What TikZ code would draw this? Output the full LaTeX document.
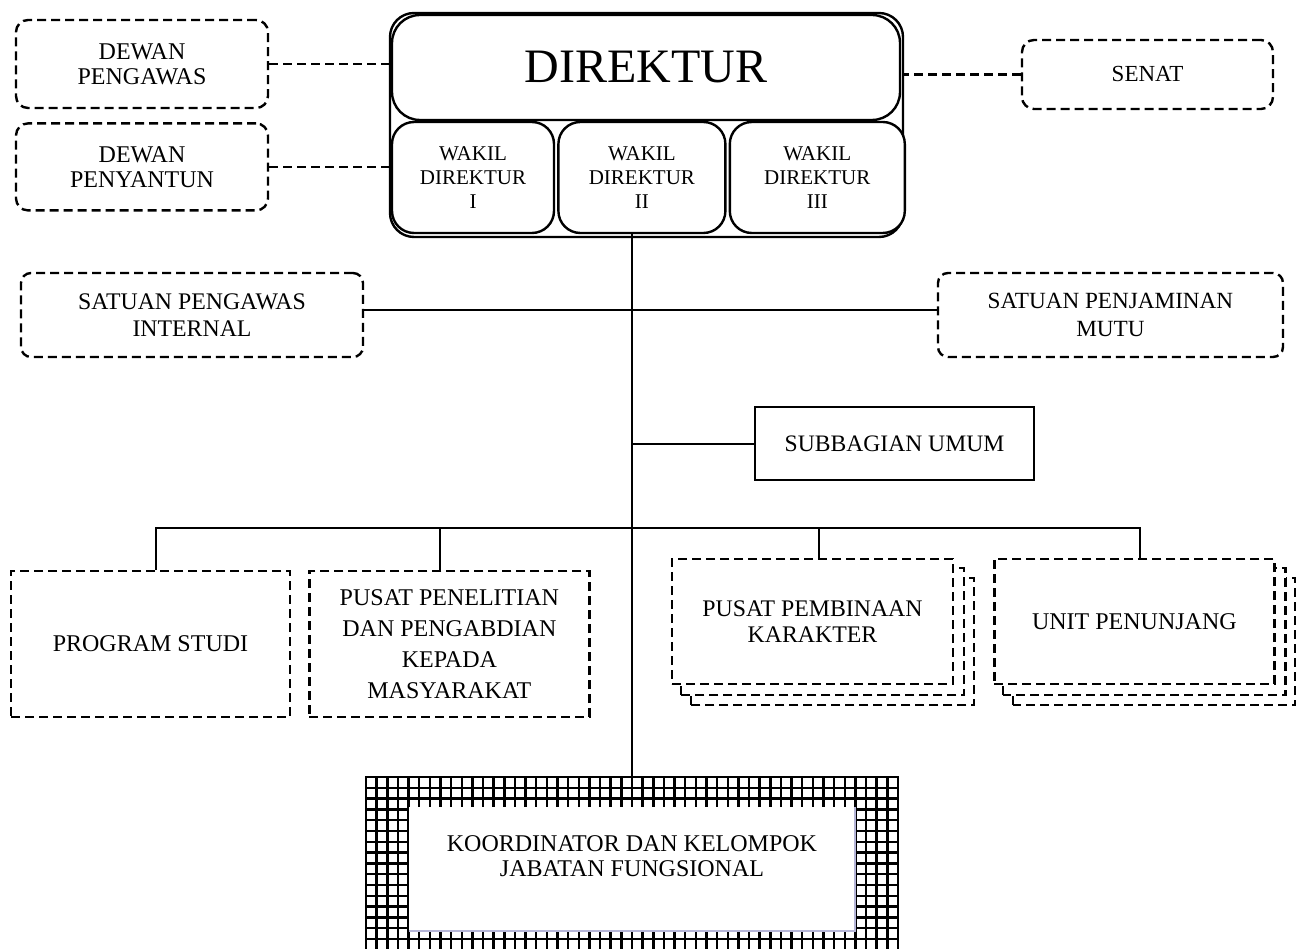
\documentclass[tikz,border=0pt]{standalone}
\usepackage{fontspec}
\setmainfont{Liberation Serif}
\usetikzlibrary{positioning, backgrounds}

\begin{document}
\begin{tikzpicture}[x=1pt, y=-1pt,
    every node/.style={font=\fontsize{23.5}{27}\selectfont},
    box/.style={draw, fill=white, line width=2.4pt, dash pattern=on 9pt off 5pt, rounded corners=12pt, align=center, inner sep=0pt},
    sqbox/.style={box, rounded corners=0pt},
    solidbox/.style={draw, fill=white, line width=2.4pt, align=center, inner sep=0pt},
    wakil/.style={solidbox, rounded corners=22pt, minimum height=111pt, font=\fontsize{21}{24}\selectfont},
    shadowbox/.style={draw, fill=white, line width=2.4pt, dash pattern=on 9pt off 5pt},
    link/.style={line width=2pt},
    dlink/.style={line width=2.4pt, dash pattern=on 9pt off 5pt},
    gridline/.style={line width=2.5pt}]
  \useasboundingbox (0,0) rectangle (1296,949);
  \clip (0,0) rectangle (1296,949);

  % pimpinan
  \node[draw, line width=2.4pt, rounded corners=24pt, minimum width=513pt, minimum height=224pt, inner sep=0pt] (fr) at (646.5,125) {};
  \node[solidbox, rounded corners=28pt, minimum width=508pt, minimum height=105pt, font=\fontsize{48}{52}\selectfont] (dir) at (646,67.5) {DIREKTUR};
  \node[wakil, minimum width=162pt] (w1) at (473,177.5) {WAKIL\\DIREKTUR\\I};
  \node[wakil, minimum width=167pt, right=2pt of w1] (w2) {WAKIL\\DIREKTUR\\II};
  \node[wakil, minimum width=175pt, right=2pt of w2] (w3) {WAKIL\\DIREKTUR\\III};

  % dewan dan senat
  \node[box, minimum width=252pt, minimum height=88pt, font=\fontsize{24}{25}\selectfont] (dp) at (142,64) {DEWAN\\PENGAWAS};
  \node[box, minimum width=252pt, minimum height=87pt, font=\fontsize{24}{25}\selectfont, below=13pt of dp] (dy) {DEWAN\\PENYANTUN};
  \node[box, minimum width=251pt, minimum height=69pt, font=\fontsize{23}{26}\selectfont] (senat) at (1147.5,74.5) {SENAT};

  % satuan
  \node[box, rounded corners=10pt, minimum width=342pt, minimum height=84pt, font=\fontsize{23.8}{27.7}\selectfont] (spi) at (192,315) {SATUAN PENGAWAS\\INTERNAL};
  \node[box, rounded corners=10pt, minimum width=345pt, minimum height=84pt, font=\fontsize{23.2}{27.7}\selectfont] (spm) at (1110.5,315) {SATUAN PENJAMINAN\\MUTU};
  \node[solidbox, line width=2pt, minimum width=279pt, minimum height=73pt, font=\fontsize{23.6}{27}\selectfont] (sub) at (894.5,443.5) {SUBBAGIAN UMUM};

  % unit di bawah
  \node[sqbox, minimum width=279pt, minimum height=146pt, font=\fontsize{24}{27}\selectfont] (ps) at (150.5,644) {PROGRAM STUDI};
  \node[sqbox, minimum width=280pt, minimum height=146pt, font=\fontsize{24}{31}\selectfont, right=17pt of ps] (pp) {PUSAT PENELITIAN\\DAN PENGABDIAN\\KEPADA\\MASYARAKAT};
  \node[sqbox, minimum width=281pt, minimum height=125pt, font=\fontsize{23.8}{26}\selectfont] (pk) at (812.5,621.5) {PUSAT PEMBINAAN\\KARAKTER};
  \node[sqbox, minimum width=280pt, minimum height=125pt, font=\fontsize{24}{27}\selectfont, right=39pt of pk] (up) {UNIT PENUNJANG};

  \begin{scope}[on background layer]
    \foreach \n in {pk,up}
      \foreach \s in {20,10}
        \draw[shadowbox] ([shift={(\s,\s)}]\n.south west) rectangle ([shift={(\s,\s)}]\n.north east);
  \end{scope}

  % kelompok jabatan fungsional
  \node[draw, fill=white, line width=2.6pt, minimum width=532pt, minimum height=183pt, inner sep=0pt] (jf) at (632,868.5) {};
  \foreach \gx in {366,376.64,...,898}
    \draw[gridline] (\gx,777) -- (\gx,960);
  \foreach \gy in {777,787.8,...,960}
    \draw[gridline] (366,\gy) -- (898,\gy);
  \node[fill=white, minimum width=446pt, minimum height=124pt, inner sep=0pt, align=center, font=\fontsize{24}{25.7}\selectfont] (kj) at (632,869) {KOORDINATOR DAN KELOMPOK\\JABATAN FUNGSIONAL\\\mbox{}};
  \draw[blue!30!gray!45, line width=1.5pt] (kj.north east) -- (kj.south east) -- (kj.south west);

  % garis
  \path[dlink]
    (dp.east) edge (dp.east -| fr.west)
    (dy.east) edge (dy.east -| fr.west)
    (senat.west) edge (senat.west -| fr.east);
  \draw[link] (w2.south -| jf.north) -- (jf.north);
  \draw[link] ([yshift=5pt]spi.east) -- ([yshift=5pt]spm.west);
  \draw[link] (sub.west) -- (sub.west -| jf.north);
  \coordinate (bus) at (632,528);
  \draw[link] ([xshift=5.5pt]ps.north) |- (bus) -| ([xshift=6pt]up.north);
  \draw[link] ([xshift=-9pt]pp.north) -- ([xshift=-9pt]pp.north |- bus);
  \draw[link] ([xshift=6.5pt]pk.north) -- ([xshift=6.5pt]pk.north |- bus);
\end{tikzpicture}
\end{document}
